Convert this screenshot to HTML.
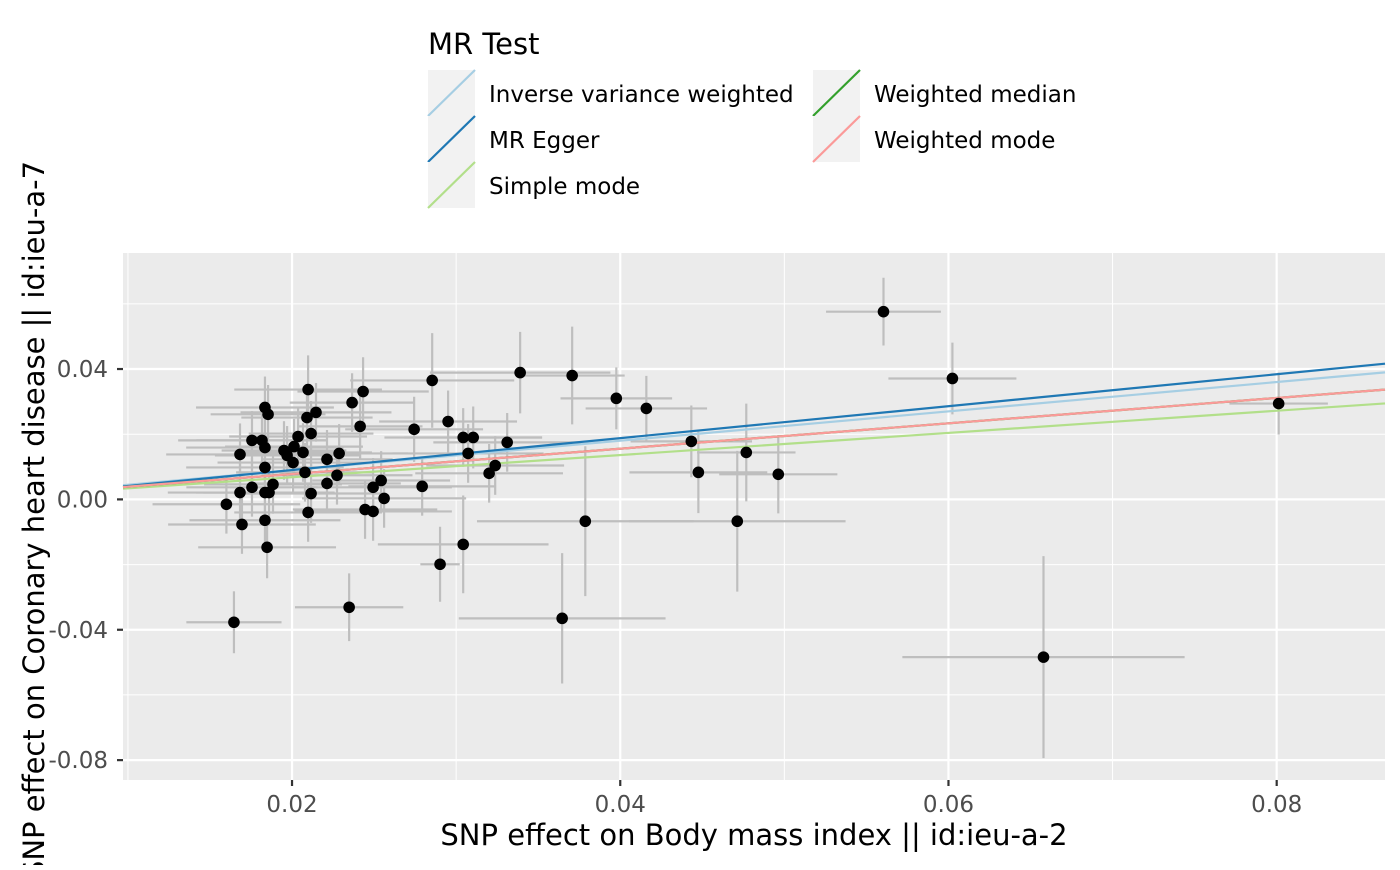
<!DOCTYPE html>
<html><head><meta charset="utf-8"><style>
body{margin:0;background:#fff;font-family:"Liberation Sans","DejaVu Sans",sans-serif;overflow:hidden}
svg text{font-family:"DejaVu Sans","Liberation Sans",sans-serif}
</style></head><body>
<svg id="c" width="1400" height="865" xmlns="http://www.w3.org/2000/svg"></svg>
<script>
const bx=[0.02098,0.02433,0.02366,0.01835,0.01854,0.02146,0.02091,0.02116,0.02037,0.01756,0.01817,0.01835,0.02012,0.01951,0.0197,0.02067,0.02006,0.01683,0.02213,0.02287,0.02415,0.02744,0.02854,0.02951,0.0339,0.03043,0.03104,0.03073,0.03311,0.03238,0.03201,0.01835,0.02079,0.02274,0.02213,0.01756,0.01884,0.01683,0.01835,0.0186,0.02116,0.02494,0.02543,0.02561,0.02793,0.016,0.02098,0.02445,0.02494,0.01695,0.01835,0.01848,0.03043,0.02902,0.01646,0.02348,0.03707,0.03976,0.04159,0.03646,0.03787,0.04433,0.04476,0.04768,0.04713,0.04963,0.05604,0.06024,0.06579,0.08012];
const by=[0.0337,0.0331,0.0297,0.0282,0.0261,0.0267,0.0251,0.0202,0.0193,0.0181,0.0181,0.0159,0.0162,0.015,0.0135,0.0144,0.0113,0.0138,0.0123,0.0141,0.0224,0.0215,0.0365,0.0239,0.0389,0.019,0.019,0.0141,0.0175,0.0104,0.008,0.0098,0.0083,0.0074,0.0049,0.0037,0.0046,0.0021,0.0021,0.0021,0.0018,0.0037,0.0058,0.0003,0.004,-0.0015,-0.004,-0.0031,-0.0037,-0.0077,-0.0064,-0.0147,-0.0138,-0.0199,-0.0377,-0.0331,0.038,0.031,0.0279,-0.0365,-0.0067,0.0178,0.0083,0.0144,-0.0067,0.0077,0.0576,0.0371,-0.0484,0.0294];
const sxe=[0.0045,0.004,0.0038,0.0042,0.0035,0.0046,0.004,0.0038,0.0042,0.0045,0.004,0.0048,0.0042,0.0038,0.0044,0.0042,0.0046,0.0045,0.004,0.0042,0.0038,0.0042,0.005,0.0042,0.0055,0.0048,0.0042,0.0046,0.0045,0.0042,0.0045,0.0048,0.0042,0.0046,0.0045,0.004,0.0042,0.0044,0.0042,0.004,0.0045,0.0048,0.0042,0.005,0.0045,0.0045,0.0045,0.0044,0.0048,0.0045,0.0046,0.0042,0.0052,0.0012,0.0029,0.0033,0.0032,0.0034,0.0037,0.0063,0.0066,0.0037,0.0042,0.003,0.0066,0.0036,0.0035,0.0039,0.0086,0.003];
const sye=[0.0105,0.0105,0.009,0.0095,0.009,0.009,0.0095,0.01,0.009,0.009,0.0085,0.009,0.0085,0.009,0.009,0.009,0.009,0.0095,0.009,0.009,0.01,0.01,0.0145,0.0095,0.0125,0.009,0.0095,0.009,0.009,0.009,0.009,0.009,0.009,0.009,0.009,0.009,0.009,0.009,0.009,0.009,0.009,0.009,0.009,0.009,0.009,0.009,0.009,0.009,0.009,0.009,0.009,0.0095,0.015,0.0115,0.0095,0.0104,0.015,0.0095,0.01,0.02,0.023,0.011,0.0125,0.015,0.0216,0.012,0.0104,0.011,0.031,0.0095];
const methods=["Inverse variance weighted","MR Egger","Simple mode","Weighted median","Weighted mode"];
const slopes=[0.45,0.49,0.34,0.389,0.389];
const intercepts=[0,-0.0008,0,0,0];
const colors=["#a6cee3","#1f78b4","#b2df8a","#33a02c","#fb9a99"];
const xTicks=[0.02,0.04,0.06,0.08];
const xTickLabels=["0.02","0.04","0.06","0.08"];
const yTicks=[0.04,0,-0.04,-0.08];
const yTickLabels=["0.04","0.00","-0.04","-0.08"];

const NS="http://www.w3.org/2000/svg";
const svg=document.getElementById('c');
const L=123,R=1385,T=253,B=780;
const X0=0.0097,X1=0.0866,Y0=-0.0861,Y1=0.0756;
const sx=v=>L+(v-X0)/(X1-X0)*(R-L);
const sy=v=>B-(v-Y0)/(Y1-Y0)*(B-T);
function el(t,a,p){const e=document.createElementNS(NS,t);for(const k in a)e.setAttribute(k,a[k]);(p||svg).appendChild(e);return e;}

const panel=el('rect',{x:L,y:T,width:R-L,height:B-T,fill:'#ebebeb'});


const grid=el('g',{});


[0.01,0.03,0.05,0.07].forEach(v=>el('line',{x1:sx(v),x2:sx(v),y1:T,y2:B,stroke:'#fff','stroke-width':1},grid));
[0.06,0.02,-0.02,-0.06].forEach(v=>el('line',{x1:L,x2:R,y1:sy(v),y2:sy(v),stroke:'#fff','stroke-width':1},grid));
xTicks.forEach(v=>el('line',{x1:sx(v),x2:sx(v),y1:T,y2:B,stroke:'#fff','stroke-width':2.2},grid));
yTicks.forEach(v=>el('line',{x1:L,x2:R,y1:sy(v),y2:sy(v),stroke:'#fff','stroke-width':2.2},grid));

const eb=el('g',{stroke:'#bebebe','stroke-width':2.2});


bx.forEach((v,i)=>{
  el('line',{x1:sx(v-sxe[i]),x2:sx(v+sxe[i]),y1:sy(by[i]),y2:sy(by[i])},eb);
  el('line',{x1:sx(v),x2:sx(v),y1:sy(by[i]-sye[i]),y2:sy(by[i]+sye[i])},eb);
});
const lg=el('g',{});


methods.forEach((m,i)=>{
  const ln=el('line',{x1:L,x2:R,y1:sy(intercepts[i]+slopes[i]*X0),y2:sy(intercepts[i]+slopes[i]*X1),stroke:colors[i],'stroke-width':2.2},lg);
  
  
});
const pg=el('g',{fill:'#000'});


bx.forEach((v,i)=>{
  const c=el('circle',{cx:sx(v),cy:sy(by[i]),r:5.8},pg);
  
  
});
const ax=el('g',{});


xTicks.forEach((v,i)=>{
  el('line',{x1:sx(v),x2:sx(v),y1:B,y2:B+6,stroke:'#333','stroke-width':2.2},ax);
  const t=el('text',{x:sx(v),y:B+32,'text-anchor':'middle','font-size':23,fill:'#4d4d4d'},ax);t.textContent=xTickLabels[i];
  
  
});
yTicks.forEach((v,i)=>{
  el('line',{x1:L-6,x2:L,y1:sy(v),y2:sy(v),stroke:'#333','stroke-width':2.2},ax);
  const t=el('text',{x:L-15,y:sy(v)+8,'text-anchor':'end','font-size':23,fill:'#4d4d4d'},ax);t.textContent=yTickLabels[i];
  
  
});
const xt=el('text',{x:754,y:845,'text-anchor':'middle','font-size':29,fill:'#000'});
xt.textContent='SNP effect on Body mass index || id:ieu-a-2';


const yt=el('text',{x:0,y:0,'text-anchor':'middle','font-size':29,fill:'#000',transform:'translate(44,520) rotate(-90)'});
yt.textContent='SNP effect on Coronary heart disease || id:ieu-a-7';



const leg=el('g',{});


const lt=el('text',{x:428,y:54,'font-size':29,fill:'#000'},leg);lt.textContent='MR Test';


const pos=[[428,70],[428,116],[428,162],[813,70],[813,116]];
methods.forEach((m,i)=>{
  const [x,y]=pos[i];
  const g=el('g',{},leg);
  
  
  el('rect',{x:x,y:y,width:47,height:46,fill:'#f2f2f2'},g);
  el('line',{x1:x,y1:y+46,x2:x+47,y2:y,stroke:colors[i],'stroke-width':2.2},g);
  const t=el('text',{x:x+61,y:y+32,'font-size':23,fill:'#000'},g);t.textContent=m;
});
</script>
</body></html>
